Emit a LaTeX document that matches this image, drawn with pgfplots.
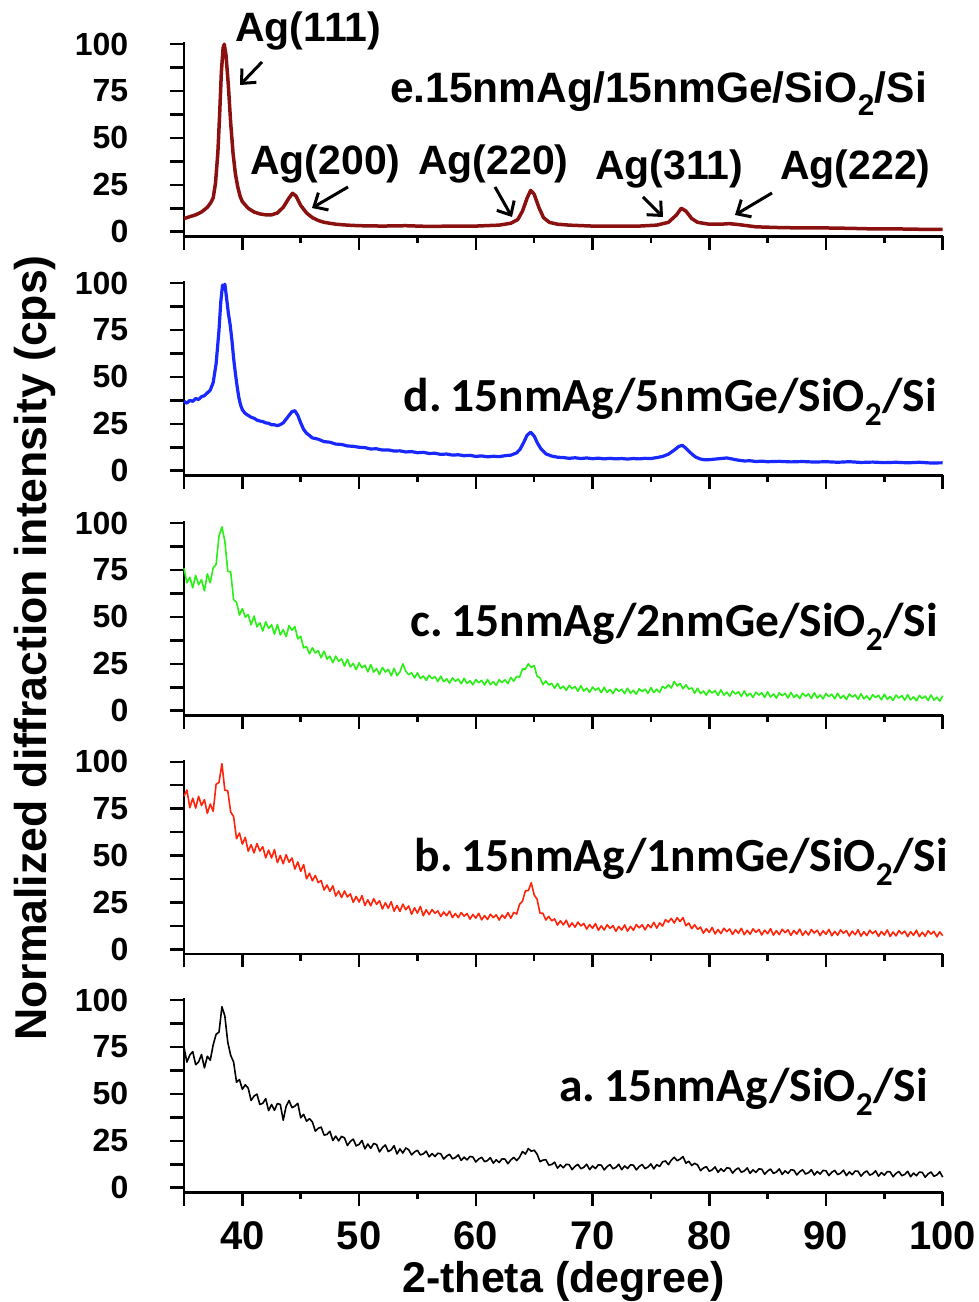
\documentclass[border=0pt]{standalone}
\usepackage{pgfplots}
\pgfplotsset{compat=1.18}
\usepackage{fontspec}
\setmainfont{Liberation Sans}
\newfontfamily\calib{Carlito}
\usetikzlibrary{arrows.meta}

\definecolor{cE}{RGB}{139,16,16}
\definecolor{cD}{RGB}{25,40,255}
\definecolor{cC}{RGB}{40,240,20}
\definecolor{cB}{RGB}{255,35,10}

% one px of the reference = 1pt here
\pgfplotsset{
  panel/.style={
    scale only axis, width=758.7pt, height=194.06pt, anchor=south west,
    xmin=35, xmax=100, ymin=-2.5, ymax=101,
    axis lines*=left,
    axis line style={line width=2.5pt},
    tick style={black, line width=2.5pt},
    tick align=outside,
    major tick length=13.5pt, minor tick length=7pt,
    xtick={40,50,...,100}, minor x tick num=1,
    extra x ticks={35}, extra x tick labels={},
    ytick={0,25,...,100},
    extra y ticks={12.5,37.5,62.5,87.5}, extra y tick labels={},
    /pgf/number format/assume math mode=true,
    yticklabel style={font=\fontsize{32}{36}\selectfont\bfseries, anchor=east, inner sep=0pt, xshift=-42pt},
    xticklabels={},
    clip=false,
  },
  noisy/.style={line width=1.6pt, line join=round},
}

\begin{document}
\begin{tikzpicture}[x=1pt,y=1pt]
\path[use as bounding box] (0,0) rectangle (979,1302);

% ---- e ----
\begin{axis}[panel, at={(184pt,1065.6pt)}]
\addplot[cE, line width=3.5pt, line join=round] table[row sep=\\] {
35 7\\ 35.5 8\\ 36 9\\ 36.5 10.5\\ 37 13\\ 37.3 15.5\\ 37.5 18\\ 37.7 26\\ 37.9 42\\ 38.05 62\\ 38.2 85\\ 38.35 98\\
38.45 100\\ 38.6 94\\ 38.8 78\\ 39 58\\ 39.2 42\\ 39.4 31\\ 39.6 24\\ 39.8 19\\ 40 16\\ 40.5 12.5\\ 41 10.5\\ 41.5 9.5\\
42 9\\ 42.5 9\\ 43 10\\ 43.5 13\\ 44 18\\ 44.3 20.5\\ 44.6 19\\ 45 14\\ 45.5 10\\ 46 7.5\\ 46.5 6\\ 47 5\\
48 4\\ 49 3.5\\ 50 3.2\\ 52 3\\ 54 3.2\\ 56 2.8\\ 58 3\\ 60 3\\ 62 3.5\\ 63 4.5\\ 63.6 6.5\\ 64 11\\
64.4 18\\ 64.7 22\\ 65 20\\ 65.4 13\\ 65.8 7.5\\ 66.3 5\\ 67 4\\ 68 3.5\\ 70 3\\ 72 3\\ 74 3\\ 75.5 3.5\\
76.5 5\\ 77.2 9\\ 77.6 12.5\\ 78 11\\ 78.5 7\\ 79 5\\ 80 4\\ 81 4\\ 81.7 4.3\\ 82.5 3.8\\ 84 2.6\\ 86 2.2\\
88 2\\ 90 2\\ 92 1.8\\ 94 1.5\\ 96 1.5\\ 98 1.3\\ 100 1.2\\
};
\end{axis}

% ---- d ----
\begin{axis}[panel, at={(184pt,826.6pt)}]
\addplot[cD, line width=3.2pt, line join=round] table[row sep=\\] {
35 37\\ 35.25 36\\ 35.5 37.5\\ 35.75 37\\ 36 38.5\\ 36.25 38\\ 36.5 39.5\\ 36.75 40\\ 37 41.5\\ 37.25 43\\
37.5 47\\ 37.75 57\\ 38 75\\ 38.15 90\\ 38.3 99\\ 38.4 97\\ 38.5 99.5\\ 38.65 92\\ 38.8 84\\ 38.95 78\\
39.1 70\\ 39.25 60\\ 39.4 52\\ 39.55 45\\ 39.7 39\\ 39.85 35\\ 40 32.5\\ 40.25 30.5\\ 40.5 29.5\\ 40.75 28.5\\
41 28\\ 41.25 27\\ 41.5 26.5\\ 41.75 26.2\\ 42 25.5\\ 42.25 25.3\\ 42.5 24.5\\ 42.75 24.5\\ 43 24\\ 43.25 24.6\\
43.5 25.5\\ 43.75 27.5\\ 44 29.5\\ 44.25 31.5\\ 44.5 32\\ 44.75 29.5\\ 45 25.5\\ 45.25 22\\ 45.5 20\\ 45.75 18.8\\
46 17.5\\ 46.5 16.8\\ 47 15.5\\ 47.5 15.2\\ 48 14.2\\ 48.5 14\\ 49 13.2\\ 49.5 13\\ 50 12.5\\ 50.5 12.3\\
51 11.6\\ 51.5 11.7\\ 52 11\\ 52.5 11.1\\ 53 10.5\\ 53.5 10.6\\ 54 10\\ 54.5 10.2\\ 55 9.6\\ 55.5 9.8\\
56 9.2\\ 56.5 9.3\\ 57 8.7\\ 57.5 8.9\\ 58 8.3\\ 58.5 8.5\\ 59 8\\ 59.5 8.2\\ 60 7.6\\ 60.5 7.9\\
61 7.4\\ 61.5 7.7\\ 62 7.5\\ 62.5 8\\ 63 8.3\\ 63.5 9.5\\ 63.8 11.5\\ 64.1 15\\ 64.4 19\\ 64.7 20.5\\
65 18.5\\ 65.3 14.5\\ 65.6 11.5\\ 66 9\\ 66.5 7.8\\ 67 7.2\\ 67.5 7\\ 68 6.6\\ 68.5 6.9\\ 69 6.5\\
69.5 6.8\\ 70 6.4\\ 70.5 6.7\\ 71 6.3\\ 71.5 6.6\\ 72 6.3\\ 72.5 6.5\\ 73 6.2\\ 73.5 6.5\\ 74 6.3\\
74.5 6.6\\ 75 6.5\\ 75.5 7\\ 76 7.6\\ 76.5 8.8\\ 77 11\\ 77.4 13\\ 77.7 13.5\\ 78 12\\ 78.4 9.5\\
78.8 7.4\\ 79.2 6.3\\ 79.6 5.8\\ 80 5.9\\ 80.5 6.2\\ 81 6.5\\ 81.5 6.8\\ 82 6.2\\ 82.5 5.6\\ 83 5.2\\
83.5 5.3\\ 84 4.9\\ 84.5 5.1\\ 85 4.8\\ 86 5\\ 87 4.7\\ 88 4.9\\ 89 4.6\\ 90 4.8\\ 91 4.5\\
92 4.8\\ 93 4.4\\ 94 4.6\\ 95 4.3\\ 96 4.5\\ 97 4.2\\ 98 4.5\\ 99 4.1\\ 100 4.2\\
};
\end{axis}

% ---- c ----
\begin{axis}[panel, at={(184pt,586.6pt)}]
\addplot[cC, noisy] table[row sep=\\] {
35 76\\ 35.25 68.2\\ 35.5 71.2\\ 35.75 65.5\\ 36 72.2\\ 36.25 67.2\\ 36.5 69.9\\ 36.75 63.9\\
37 73\\ 37.25 68.2\\ 37.5 76.2\\ 37.75 78\\ 38 93.2\\ 38.25 98\\ 38.5 90.4\\ 38.75 74.4\\
39 74\\ 39.25 59.2\\ 39.5 57.9\\ 39.75 51\\ 40 54.4\\ 40.25 49.9\\ 40.5 51.3\\ 40.75 45.8\\
41 50.5\\ 41.25 44.7\\ 41.5 46.9\\ 41.75 42.5\\ 42 47.4\\ 42.25 43.9\\ 42.5 45.8\\ 42.75 40.8\\
43 46\\ 43.25 40.4\\ 43.5 43.2\\ 43.75 39.5\\ 44 45.4\\ 44.25 42.9\\ 44.5 44.8\\ 44.75 38.3\\
45 39.7\\ 45.25 33.5\\ 45.5 34.2\\ 45.75 30.3\\ 46 33.6\\ 46.25 30.8\\ 46.5 32\\ 46.75 28.2\\
47 31.8\\ 47.25 27.5\\ 47.5 29.1\\ 47.75 25.6\\ 48 29.1\\ 48.25 26.4\\ 48.5 27.6\\ 48.75 23.8\\
49 27.5\\ 49.25 23.4\\ 49.5 25.2\\ 49.75 21.9\\ 50 25.5\\ 50.25 22.9\\ 50.5 24.3\\ 50.75 20.7\\
51 24.6\\ 51.25 20.6\\ 51.5 22.5\\ 51.75 19.3\\ 52 23.1\\ 52.25 20.6\\ 52.5 22.1\\ 52.75 18.6\\
53 22.6\\ 53.25 18.7\\ 53.5 20.7\\ 53.75 25\\ 54 21.1\\ 54.25 19.2\\ 54.5 20.2\\ 54.75 17.5\\
55 20.2\\ 55.25 17.2\\ 55.5 18.5\\ 55.75 16.2\\ 56 18.9\\ 56.25 17.1\\ 56.5 18.2\\ 56.75 15.6\\
57 18.4\\ 57.25 15.5\\ 57.5 17\\ 57.75 14.7\\ 58 17.5\\ 58.25 15.7\\ 58.5 16.9\\ 58.75 14.4\\
59 17.3\\ 59.25 14.5\\ 59.5 16\\ 59.75 13.8\\ 60 16.6\\ 60.25 14.9\\ 60.5 16.2\\ 60.75 13.7\\
61 16.7\\ 61.25 13.9\\ 61.5 15.5\\ 61.75 13.5\\ 62 16.5\\ 62.25 15\\ 62.5 16.5\\ 62.75 14.4\\
63 17.8\\ 63.25 15.7\\ 63.5 18.3\\ 63.75 17.9\\ 64 22.3\\ 64.25 22.2\\ 64.5 25\\ 64.75 23.1\\
65 24.1\\ 65.25 18.4\\ 65.5 17.5\\ 65.75 13.9\\ 66 15.9\\ 66.25 13.7\\ 66.5 14.6\\ 66.75 11.9\\
67 14.6\\ 67.25 11.7\\ 67.5 13.1\\ 67.75 10.8\\ 68 13.5\\ 68.25 11.7\\ 68.5 12.9\\ 68.75 10.4\\
69 13.3\\ 69.25 10.5\\ 69.5 12\\ 69.75 9.8\\ 70 12.6\\ 70.25 10.9\\ 70.5 12.1\\ 70.75 9.6\\
71 12.5\\ 71.25 9.7\\ 71.5 11.3\\ 71.75 9.1\\ 72 11.9\\ 72.25 10.3\\ 72.5 11.5\\ 72.75 9.1\\
73 12\\ 73.25 9.3\\ 73.5 10.9\\ 73.75 8.8\\ 74 11.7\\ 74.25 10.2\\ 74.5 11.5\\ 74.75 9.2\\
75 12.3\\ 75.25 9.7\\ 75.5 11.5\\ 75.75 9.7\\ 76 13\\ 76.25 11.9\\ 76.5 13.8\\ 76.75 12.1\\
77 15.6\\ 77.25 13.2\\ 77.5 14.5\\ 77.75 11.7\\ 78 13.8\\ 78.25 11.5\\ 78.5 12.2\\ 78.75 9.3\\
79 12\\ 79.25 9.1\\ 79.5 10.5\\ 79.75 8.3\\ 80 11.1\\ 80.25 9.45\\ 80.5 10.7\\ 80.75 8.2\\
81 11.1\\ 81.25 8.35\\ 81.5 9.9\\ 81.75 7.7\\ 82 10.5\\ 82.25 8.85\\ 82.5 10.1\\ 82.75 7.6\\
83 10.55\\ 83.25 7.8\\ 83.5 9.3\\ 83.75 7.1\\ 84 9.9\\ 84.25 8.3\\ 84.5 9.55\\ 84.75 7.1\\
85 10.05\\ 85.25 7.3\\ 85.5 8.9\\ 85.75 6.75\\ 86 9.6\\ 86.25 8\\ 86.5 9.25\\ 86.75 6.8\\
87 9.8\\ 87.25 7.05\\ 87.5 8.6\\ 87.75 6.5\\ 88 9.35\\ 88.25 7.7\\ 88.5 9\\ 88.75 6.55\\
89 9.55\\ 89.25 6.8\\ 89.5 8.4\\ 89.75 6.3\\ 90 9.2\\ 90.25 7.5\\ 90.5 8.8\\ 90.75 6.35\\
91 9.3\\ 91.25 6.6\\ 91.5 8.15\\ 91.75 6\\ 92 8.9\\ 92.25 7.25\\ 92.5 8.5\\ 92.75 6.1\\
93 9.05\\ 93.25 6.3\\ 93.5 7.9\\ 93.75 5.75\\ 94 8.6\\ 94.25 7\\ 94.5 8.25\\ 94.75 5.8\\
95 8.8\\ 95.25 6.05\\ 95.5 7.6\\ 95.75 5.5\\ 96 8.35\\ 96.25 6.7\\ 96.5 8\\ 96.75 5.6\\
97 8.55\\ 97.25 5.8\\ 97.5 7.4\\ 97.75 5.3\\ 98 8.15\\ 98.25 6.5\\ 98.5 7.8\\ 98.75 5.4\\
99 8.4\\ 99.25 5.65\\ 99.5 7.2\\ 99.75 5.1\\ 100 8\\
};
\end{axis}

% ---- b ----
\begin{axis}[panel, at={(184pt,348pt)}]
\addplot[cB, noisy] table[row sep=\\] {
35 81.6\\ 35.25 85\\ 35.5 75.5\\ 35.75 80.6\\ 36 75.3\\ 36.25 81.6\\ 36.5 76.7\\ 36.75 79.8\\
37 72.5\\ 37.25 77.5\\ 37.5 73.6\\ 37.75 88\\ 38 89\\ 38.25 99\\ 38.5 84.8\\ 38.75 84.6\\
39 73.2\\ 39.25 70.8\\ 39.5 59\\ 39.75 62\\ 40 56.1\\ 40.25 59.7\\ 40.5 52.3\\ 40.75 55.8\\
41 51.4\\ 41.25 56.4\\ 41.5 52.4\\ 41.75 54.7\\ 42 48.8\\ 42.25 52.9\\ 42.5 48.7\\ 42.75 53.2\\
43 46.2\\ 43.25 50.1\\ 43.5 45.6\\ 43.75 50.5\\ 44 46.4\\ 44.25 48.7\\ 44.5 42.8\\ 44.75 46.6\\
45 41.6\\ 45.25 45.2\\ 45.5 37.6\\ 45.75 40.6\\ 46 36.5\\ 46.25 39.4\\ 46.5 35.6\\ 46.75 36.7\\
47 31.6\\ 47.25 34.3\\ 47.5 30.9\\ 47.75 33.9\\ 48 28.4\\ 48.25 31.1\\ 48.5 27.6\\ 48.75 31.1\\
49 27.9\\ 49.25 29.6\\ 49.5 25\\ 49.75 28.2\\ 50 25.2\\ 50.25 28.6\\ 50.5 23.4\\ 50.75 26.4\\
51 23.2\\ 51.25 27\\ 51.5 24\\ 51.75 25.9\\ 52 21.5\\ 52.25 24.8\\ 52.5 21.9\\ 52.75 25.4\\
53 20.3\\ 53.25 23.4\\ 53.5 20.2\\ 53.75 24.1\\ 54 21.1\\ 54.25 23.1\\ 54.5 18.7\\ 54.75 22.1\\
55 19.3\\ 55.25 22.9\\ 55.5 17.9\\ 55.75 21.1\\ 56 18.5\\ 56.25 21.2\\ 56.5 19.2\\ 56.75 20.5\\
57 17.5\\ 57.25 19.9\\ 57.5 17.9\\ 57.75 20.4\\ 58 16.9\\ 58.25 19.1\\ 58.5 16.9\\ 58.75 19.6\\
59 17.7\\ 59.25 19.1\\ 59.5 16.1\\ 59.75 18.6\\ 60 16.6\\ 60.25 19.2\\ 60.5 15.7\\ 60.75 18\\
61 15.9\\ 61.25 18.7\\ 61.5 16.9\\ 61.75 18.4\\ 62 15.6\\ 62.25 18.3\\ 62.5 16.6\\ 62.75 19.6\\
63 16.6\\ 63.25 19.7\\ 63.5 18.8\\ 63.75 24\\ 64 25.7\\ 64.25 31.2\\ 64.5 31.3\\ 64.75 35.5\\
65 29\\ 65.25 26.7\\ 65.5 19.3\\ 65.75 19.2\\ 66 15.6\\ 66.25 17.6\\ 66.5 15.2\\ 66.75 16.2\\
67 12.9\\ 67.25 15.2\\ 67.5 13\\ 67.75 15.5\\ 68 11.9\\ 68.25 14.1\\ 68.5 11.8\\ 68.75 14.5\\
69 12.5\\ 69.25 13.8\\ 69.5 10.8\\ 69.75 13.2\\ 70 11.2\\ 70.25 13.7\\ 70.5 10.2\\ 70.75 12.5\\
71 10.3\\ 71.25 13.1\\ 71.5 11.2\\ 71.75 12.6\\ 72 9.6\\ 72.25 12.2\\ 72.5 10.3\\ 72.75 13\\
73 9.7\\ 73.25 12.2\\ 73.5 10.2\\ 73.75 13.2\\ 74 11.5\\ 74.25 13.1\\ 74.5 10.4\\ 74.75 13.2\\
75 11.5\\ 75.25 14.4\\ 75.5 11.3\\ 75.75 14.1\\ 76 12.4\\ 76.25 15.8\\ 76.5 14.5\\ 76.75 16.5\\
77 14\\ 77.25 16.9\\ 77.5 14.8\\ 77.75 16.9\\ 78 12.6\\ 78.25 14\\ 78.5 11\\ 78.75 13.1\\
79 10.7\\ 79.25 11.8\\ 79.5 8.6\\ 79.75 11\\ 80 9\\ 80.25 11.65\\ 80.5 8.2\\ 80.75 10.55\\
81 8.4\\ 81.25 11.25\\ 81.5 9.4\\ 81.75 10.85\\ 82 7.9\\ 82.25 10.5\\ 82.5 8.55\\ 82.75 11.2\\
83 7.8\\ 83.25 10.15\\ 83.5 8.05\\ 83.75 10.9\\ 84 9.1\\ 84.25 10.6\\ 84.5 7.65\\ 84.75 10.25\\
85 8.3\\ 85.25 11\\ 85.5 7.6\\ 85.75 9.95\\ 86 7.85\\ 86.25 10.7\\ 86.5 8.9\\ 86.75 10.4\\
87 7.45\\ 87.25 10.05\\ 87.5 8.1\\ 87.75 10.8\\ 88 7.4\\ 88.25 9.75\\ 88.5 7.65\\ 88.75 10.55\\
89 8.7\\ 89.25 10.2\\ 89.5 7.3\\ 89.75 9.9\\ 90 8\\ 90.25 10.65\\ 90.5 7.25\\ 90.75 9.6\\
91 7.5\\ 91.25 10.35\\ 91.5 8.55\\ 91.75 10\\ 92 7.1\\ 92.25 9.7\\ 92.5 7.75\\ 92.75 10.45\\
93 7\\ 93.25 9.4\\ 93.5 7.3\\ 93.75 10.15\\ 94 8.35\\ 94.25 9.85\\ 94.5 6.9\\ 94.75 9.5\\
95 7.6\\ 95.25 10.3\\ 95.5 6.85\\ 95.75 9.25\\ 96 7.15\\ 96.25 10\\ 96.5 8.2\\ 96.75 9.7\\
97 6.8\\ 97.25 9.4\\ 97.5 7.45\\ 97.75 10.15\\ 98 6.75\\ 98.25 9.1\\ 98.5 7\\ 98.75 9.9\\
99 8.1\\ 99.25 9.6\\ 99.5 6.65\\ 99.75 9.25\\ 100 7.3\\
};
\end{axis}

% ---- a ----
\begin{axis}[panel, at={(184pt,109.6pt)},
  xticklabels={40,50,60,70,80,90,100},
  xticklabel style={font=\fontsize{40}{44}\selectfont\bfseries, anchor=north, inner sep=0pt, yshift=-15pt}]
\addplot[black, noisy] table[row sep=\\] {
35 74.8\\ 35.25 67\\ 35.5 70.8\\ 35.75 72.6\\ 36 65.6\\ 36.25 67.1\\ 36.5 71\\ 36.75 63.9\\
37 70.1\\ 37.25 68\\ 37.5 76.2\\ 37.75 81.8\\ 38 83\\ 38.25 96.5\\ 38.5 91.6\\ 38.75 77.6\\
39 70.6\\ 39.25 67\\ 39.5 56.3\\ 39.75 57.7\\ 40 52.5\\ 40.25 54.9\\ 40.5 53.1\\ 40.75 46.5\\
41 48.9\\ 41.25 49.9\\ 41.5 44.4\\ 41.75 45\\ 42 47.5\\ 42.25 41.1\\ 42.5 44.4\\ 42.75 41.3\\
43 44.9\\ 43.25 44.4\\ 43.5 36\\ 43.75 43.4\\ 44 46.5\\ 44.25 42.7\\ 44.5 43.5\\ 44.75 45\\
45 37.3\\ 45.25 39.1\\ 45.5 35.5\\ 45.75 36.8\\ 46 35.1\\ 46.25 30.2\\ 46.5 31.7\\ 46.75 32.3\\
47 28.1\\ 47.25 28.4\\ 47.5 30.1\\ 47.75 25.2\\ 48 27.5\\ 48.25 25\\ 48.5 27.4\\ 48.75 26.6\\
49 22.5\\ 49.25 24.7\\ 49.5 25.9\\ 49.75 22.3\\ 50 23.1\\ 50.25 25.2\\ 50.5 20.7\\ 50.75 23.3\\
51 21\\ 51.25 23.6\\ 51.5 23\\ 51.75 19.1\\ 52 21.4\\ 52.25 22.8\\ 52.5 19.3\\ 52.75 20.2\\
53 22.4\\ 53.25 18\\ 53.5 20.7\\ 53.75 18.5\\ 54 21.2\\ 54.25 20.25\\ 54.5 17.5\\ 54.75 19.1\\
55 19.95\\ 55.25 17.5\\ 55.5 18.05\\ 55.75 19.5\\ 56 16.45\\ 56.25 18.2\\ 56.5 16.65\\ 56.75 18.4\\
57 18.05\\ 57.25 15.3\\ 57.5 16.9\\ 57.75 17.85\\ 58 15.4\\ 58.25 16.05\\ 58.5 17.5\\ 58.75 14.55\\
59 16.3\\ 59.25 14.85\\ 59.5 16.7\\ 59.75 16.35\\ 60 13.7\\ 60.25 15.3\\ 60.5 16.25\\ 60.75 13.9\\
61 14.45\\ 61.25 16\\ 61.5 13.05\\ 61.75 14.9\\ 62 13.45\\ 62.25 15.4\\ 62.5 15.25\\ 62.75 12.8\\
63 14.8\\ 63.25 16.15\\ 63.5 14.5\\ 63.75 16.25\\ 64 19.3\\ 64.25 17.95\\ 64.5 20.9\\ 64.75 19.45\\
65 20\\ 65.25 17.95\\ 65.5 13.9\\ 65.75 14.7\\ 66 14.95\\ 66.25 12.1\\ 66.5 12.35\\ 66.75 13.6\\
67 10.45\\ 67.25 12.2\\ 67.5 10.65\\ 67.75 12.5\\ 68 12.25\\ 68.25 9.65\\ 68.5 11.4\\ 68.75 12.45\\
69 10.15\\ 69.25 10.85\\ 69.5 12.5\\ 69.75 9.65\\ 70 11.6\\ 70.25 10.25\\ 70.5 12.2\\ 70.75 12.05\\
71 9.5\\ 71.25 11.3\\ 71.5 12.35\\ 71.75 10.1\\ 72 10.85\\ 72.25 12.5\\ 72.5 9.65\\ 72.75 11.6\\
73 10.25\\ 73.25 12.2\\ 73.5 12.05\\ 73.75 9.5\\ 74 11.3\\ 74.25 12.4\\ 74.5 10.2\\ 74.75 11\\
75 12.7\\ 75.25 10.05\\ 75.5 12.3\\ 75.75 11.35\\ 76 13.8\\ 76.25 14.25\\ 76.5 12.3\\ 76.75 14.7\\
77 16.25\\ 77.25 14.4\\ 77.5 15.25\\ 77.75 16.6\\ 78 13.05\\ 78.25 14.1\\ 78.5 11.85\\ 78.75 13\\
79 12.15\\ 79.25 9.1\\ 79.5 10.5\\ 79.75 11.25\\ 80 8.8\\ 80.25 9.5\\ 80.5 11.1\\ 80.75 8.2\\
81 10.1\\ 81.25 8.7\\ 81.5 10.6\\ 81.75 10.4\\ 82 7.8\\ 82.25 9.55\\ 82.5 10.55\\ 82.75 8.25\\
83 8.95\\ 83.25 10.55\\ 83.5 7.65\\ 83.75 9.55\\ 84 8.15\\ 84.25 10.05\\ 84.5 9.85\\ 84.75 7.2\\
85 8.9\\ 85.25 9.95\\ 85.5 7.65\\ 85.75 8.35\\ 86 10\\ 86.25 7.1\\ 86.5 9\\ 86.75 7.65\\
87 9.55\\ 87.25 9.35\\ 87.5 6.8\\ 87.75 8.55\\ 88 9.55\\ 88.25 7.3\\ 88.5 8\\ 88.75 9.6\\
89 6.75\\ 89.25 8.65\\ 89.5 7.3\\ 89.75 9.2\\ 90 9.05\\ 90.25 6.45\\ 90.5 8.25\\ 90.75 9.25\\
91 7\\ 91.25 7.7\\ 91.5 9.35\\ 91.75 6.45\\ 92 8.4\\ 92.25 7\\ 92.5 8.9\\ 92.75 8.75\\
93 6.15\\ 93.25 7.95\\ 93.5 8.95\\ 93.75 6.7\\ 94 7.4\\ 94.25 9\\ 94.5 6.15\\ 94.75 8.05\\
95 6.7\\ 95.25 8.6\\ 95.5 8.45\\ 95.75 5.85\\ 96 7.65\\ 96.25 8.65\\ 96.5 6.4\\ 96.75 7.1\\
97 8.75\\ 97.25 5.85\\ 97.5 7.8\\ 97.75 6.4\\ 98 8.35\\ 98.25 8.15\\ 98.5 5.6\\ 98.75 7.35\\
99 8.4\\ 99.25 6.1\\ 99.5 6.85\\ 99.75 8.5\\ 100 5.65\\
};
\end{axis}

% ---- axis titles ----
\node[rotate=90, font=\fontsize{44.6}{50}\selectfont\bfseries] at (35,654) {Normalized diffraction intensity (cps)};
\node[font=\fontsize{43}{48}\selectfont\bfseries] at (563.5,21) {2-theta (degree)};

% ---- sample labels ----
\node[anchor=base west, inner sep=0pt, font=\fontsize{42.5}{46}\selectfont\bfseries] at (390,1199) {e.15nmAg/15nmGe/SiO\textsubscript{2}/Si};
\begin{scope}[every node/.style={anchor=base east, inner sep=0pt, font=\calib\fontsize{47.5}{52}\selectfont\bfseries}]
\node at (937,890) {d.\kern-2pt\ 15nmAg/5nmGe/SiO\textsubscript{2}/Si};
\node at (938,665) {c.\kern-2pt\ 15nmAg/2nmGe/SiO\textsubscript{2}/Si};
\node at (948,430) {b.\kern-2pt\ 15nmAg/1nmGe/SiO\textsubscript{2}/Si};
\node at (928,200) {a.\kern-2pt\ 15nmAg/SiO\textsubscript{2}/Si};
\end{scope}

% ---- peak labels and arrows ----
\begin{scope}[every node/.style={anchor=base west, inner sep=0pt, font=\fontsize{41}{46}\selectfont\bfseries}]
\node at (235,1260) {Ag(111)};
\node at (250,1127) {Ag(200)};
\node at (418,1127) {Ag(220)};
\node at (595,1122) {Ag(311)};
\node at (780,1122) {Ag(222)};
\end{scope}
\begin{scope}[line width=3pt, -{Straight Barb[length=11pt,width=20pt]}]
\draw (262,1240) -- (240,1217);
\draw (348,1115) -- (312,1094);
\draw (495,1115) -- (512,1085);
\draw (643,1105) -- (663,1085);
\draw (772,1109) -- (735,1087);
\end{scope}
\end{tikzpicture}
\end{document}
